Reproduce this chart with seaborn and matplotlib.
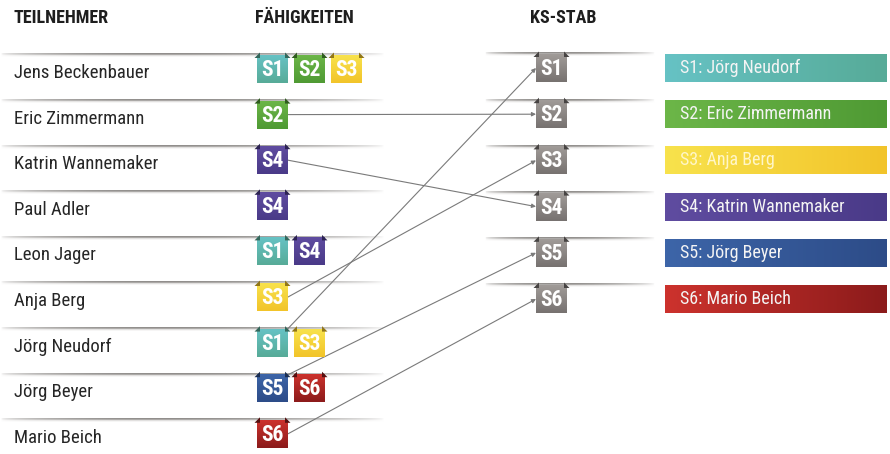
import numpy as np
import matplotlib
matplotlib.use("Agg")
import matplotlib.pyplot as plt
import seaborn as sns
from matplotlib.patches import Rectangle, Polygon
from matplotlib.colors import to_rgb

# ---- data ----
participants = ["Jens Beckenbauer", "Eric Zimmermann", "Katrin Wannemaker", "Paul Adler",
                "Leon Jager", "Anja Berg", "Jörg Neudorf", "Jörg Beyer", "Mario Beich"]
skills = [["S1", "S2", "S3"], ["S2"], ["S4"], ["S4"], ["S1", "S4"], ["S3"],
          ["S1", "S3"], ["S5", "S6"], ["S6"]]
staff = ["S1", "S2", "S3", "S4", "S5", "S6"]
staff_names = ["Jörg Neudorf", "Eric Zimmermann", "Anja Berg", "Katrin Wannemaker",
               "Jörg Beyer", "Mario Beich"]
links_from = ["Eric Zimmermann", "Katrin Wannemaker", "Jörg Neudorf", "Anja Berg",
              "Jörg Beyer", "Mario Beich"]
links_skill = ["S2", "S4", "S1", "S3", "S5", "S6"]

colors = {
    "S1": ("#66c2c4", "#57ab98"),
    "S2": ("#6cb648", "#4f9a34"),
    "S3": ("#f8e24c", "#f2c42a"),
    "S4": ("#5f4ca0", "#4a3a88"),
    "S5": ("#3d65a8", "#2d4c88"),
    "S6": ("#cc322d", "#8c1b1b"),
}
grey = ("#a09b98", "#777270")

sns.set_theme(style="white")
plt.rcParams["font.family"] = ["Roboto Condensed", "Liberation Sans Narrow", "Roboto", "DejaVu Sans"]

fig = plt.figure(figsize=(8.9, 4.54), dpi=100)
ax = fig.add_axes([0, 0, 1, 1])


def blend(c1, c2, n=48):
    a, b = np.array(to_rgb(c1)), np.array(to_rgb(c2))
    t = np.linspace(0, 1, n)[:, None]
    return a * (1 - t) + b * t


def grad_box(x, y, w, h, c1, c2, horizontal=False, z=3):
    g = blend(c1, c2)
    arr = g[None, :, :] if horizontal else g[:, None, :]
    im = ax.imshow(arr, extent=(x, x + w, y + h, y), aspect="auto", zorder=z,
                   interpolation="bilinear")
    r = Rectangle((x, y), w, h, facecolor="none", edgecolor="none", transform=ax.transData)
    ax.add_patch(r)
    im.set_clip_path(r)


def separator(x0, x1, y):
    n = 200
    t = np.linspace(0, 1, n)
    prof = np.clip(np.sin(np.pi * t ** 0.8) ** 0.6, 0, 1)
    rows = [("#7d7a77", 0.85), ("#8e8b88", 0.75), ("#bdbab8", 0.45), ("#e2e0de", 0.3)]
    arr = np.zeros((len(rows), n, 4))
    for k, (c, a) in enumerate(rows):
        arr[k, :, :3] = to_rgb(c)
        arr[k, :, 3] = a * prof
    ax.imshow(arr, extent=(x0, x1, y + 2.5, y - 1.5), aspect="auto", zorder=1,
              interpolation="bilinear")


def badge(x, y, label, cols, w=31, h=28):
    grad_box(x, y, w, h, cols[0], cols[1])
    dark = tuple(np.array(to_rgb(cols[1])) * 0.6)
    ax.add_patch(Polygon([(x - 2.5, y + 3), (x + 3, y - 2.5), (x + 3, y + 3)],
                         closed=True, facecolor=dark, edgecolor="none", zorder=4))
    ax.add_patch(Polygon([(x + w + 2.5, y + 3), (x + w - 3, y - 2.5), (x + w - 3, y + 3)],
                         closed=True, facecolor=dark, edgecolor="none", zorder=4))
    ax.text(x + w / 2, y + h / 2 + 1, label, color="white", fontsize=15.5,
            fontweight="bold", ha="center", va="center", zorder=5)


# headers
for hx, txt in [(14, "TEILNEHMER"), (255, "FÄHIGKEITEN"), (530, "KS-STAB")]:
    ax.text(hx, 18, txt, fontsize=13, fontweight="bold", color="#1e1e1e",
            va="center", ha="left")

row0, step = 72, 45.6
bw, gap = 31, 6
anchors = {}
for i, (name, sk) in enumerate(zip(participants, skills)):
    yc = row0 + i * step
    top = yc - 17
    separator(0, 385, top)
    ax.text(14, yc + 1, name, fontsize=13.5, color="#262626", va="center", ha="left")
    for j, s in enumerate(sk):
        x = 257 + j * (bw + gap)
        badge(x, top, s, colors[s])
        if j == 0:
            if len(sk) > 1:
                anchors[(name, s)] = (x + bw - 1, top + 1)
            else:
                anchors[(name, s)] = (x + bw, top + 14)

ks0, ks_step = 67, 46.2
ks_pos = {}
for k, (s, nm) in enumerate(zip(staff, staff_names)):
    yc = ks0 + k * ks_step
    top = yc - 13
    separator(485, 655, top)
    badge(536, top, s, grey)
    ks_pos[s] = (536, top + 14)
    grad_box(665, top, 222, 28, colors[s][0], colors[s][1], horizontal=True, z=2)
    tcol = "#fff6c8" if s == "S3" else "#f4f4f4"
    ax.text(680, yc + 1, f"{s}: {nm}", fontsize=13, color=tcol, va="center", ha="left",
            zorder=3)

for p, s in zip(links_from, links_skill):
    x0, y0 = anchors[(p, s)]
    x1, y1 = ks_pos[s]
    ax.annotate("", xy=(x1, y1), xytext=(x0, y0),
                arrowprops=dict(arrowstyle="-|>", color="#7a7a7a", lw=0.8,
                                mutation_scale=6, shrinkA=0, shrinkB=0), zorder=2)

ax.set_xlim(0, 890)
ax.set_ylim(454, 0)
ax.axis("off")
fig.savefig("out.png", dpi=100, facecolor="white")
